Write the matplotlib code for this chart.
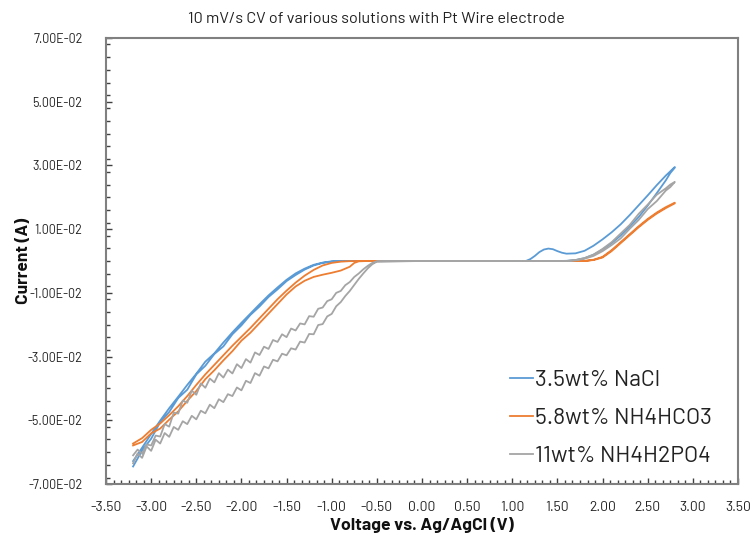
import numpy as np
import matplotlib
matplotlib.use("Agg")
import matplotlib.pyplot as plt
from matplotlib.ticker import FuncFormatter, MultipleLocator

plt.rcParams['font.family'] = ['Barlow', 'Roboto Condensed', 'DejaVu Sans']

# --- data (current in mA, converted to A below) ---
labels = ['3.5wt% NaCl', '5.8wt% NH4HCO3', '11wt% NH4H2PO4']
colors = ['#5B9BD5', '#ED7D31', '#A5A5A5']

# 3.5wt% NaCl
nacl_v_fwd = [-3.2, -3.1, -3.0, -2.9, -2.8, -2.7, -2.6, -2.5, -2.4, -2.3, -2.2, -2.1, -2.0,
              -1.9, -1.8, -1.7, -1.6, -1.5, -1.4, -1.3, -1.2, -1.1, -1.0, -0.9, -0.8,
              -0.4, 0.0, 0.5, 1.0, 1.15, 1.2, 1.25, 1.3, 1.35, 1.4, 1.45, 1.5, 1.55, 1.6,
              1.7, 1.8, 1.9, 2.0, 2.1, 2.2, 2.3, 2.4, 2.5, 2.6, 2.7, 2.8]
nacl_i_fwd = [-64.5, -59.5, -55.8, -50.6, -47.4, -43.0, -40.4, -35.6, -32.9, -29.2, -26.8, -23.0, -20.2,
              -16.9, -14.3, -11.3, -8.9, -6.3, -4.4, -2.7, -1.4, -0.6, -0.2, -0.05, 0.0,
              0.0, 0.0, 0.0, 0.0, 0.0, 0.6, 1.6, 2.8, 3.6, 3.9, 3.7, 3.1, 2.6, 2.3,
              2.4, 3.2, 4.8, 6.8, 9.0, 11.5, 14.4, 17.5, 20.6, 23.8, 26.8, 29.5]
nacl_v_rev = [2.8, 2.75, 2.7, 2.6, 2.5, 2.4, 2.3, 2.2, 2.1, 2.0, 1.9, 1.8, 1.7, 1.6, 1.5,
              1.0, 0.5, 0.0, -0.4, -0.9, -1.0, -1.1, -1.2, -1.3, -1.4, -1.5, -1.6, -1.7, -1.8,
              -1.9, -2.0, -2.1, -2.2, -2.3, -2.4, -2.5, -2.6, -2.7, -2.8, -2.9, -3.0, -3.1, -3.2]
nacl_i_rev = [29.3, 27.6, 25.3, 21.3, 17.4, 13.8, 10.8, 8.0, 5.6, 3.6, 2.0, 0.9, 0.3, 0.05, 0.0,
              0.0, 0.0, 0.0, 0.0, 0.0, -0.1, -0.5, -1.2, -2.4, -3.9, -5.9, -8.3, -10.8, -13.6,
              -16.5, -19.4, -22.4, -25.6, -29.0, -31.6, -35.4, -38.9, -42.6, -46.2, -50.1, -54.3, -58.6, -62.8]

# 5.8wt% NH4HCO3
nh4hco3_v_fwd = [-3.2, -3.1, -3.0, -2.9, -2.8, -2.7, -2.6, -2.5, -2.4, -2.3, -2.2, -2.1, -2.0,
                 -1.9, -1.8, -1.7, -1.6, -1.5, -1.4, -1.3, -1.2, -1.1, -1.0, -0.9, -0.8,
                 -0.75, -0.7, -0.6, 0.0, 1.0, 1.8, 1.9, 2.0, 2.1, 2.2, 2.3, 2.4, 2.5, 2.6, 2.7, 2.8]
nh4hco3_i_fwd = [-57.9, -56.8, -54.1, -52.6, -49.8, -47.2, -43.9, -40.8, -37.1, -34.3, -31.2, -28.3, -25.0,
                 -22.5, -19.5, -16.5, -13.5, -10.5, -8.0, -6.2, -5.0, -4.3, -3.7, -3.0, -1.8,
                 -0.6, -0.1, 0.0, 0.0, 0.0, 0.0, 0.4, 1.3, 3.4, 5.9, 8.4, 10.9, 13.2, 15.2, 16.9, 18.3]
nh4hco3_v_rev = [2.8, 2.7, 2.6, 2.5, 2.4, 2.3, 2.2, 2.1, 2.0, 1.9, 1.8, 1.0, 0.0, -0.6, -0.7,
                 -0.8, -0.9, -1.0, -1.1, -1.2, -1.3, -1.4, -1.5, -1.6, -1.7, -1.8, -1.9, -2.0,
                 -2.1, -2.2, -2.3, -2.4, -2.5, -2.6, -2.7, -2.8, -2.9, -3.0, -3.1, -3.2]
nh4hco3_i_rev = [18.1, 16.6, 14.9, 12.9, 10.6, 8.1, 5.6, 3.1, 1.1, 0.3, 0.0, 0.0, 0.0, 0.0, 0.0,
                 -0.05, -0.2, -0.6, -1.4, -2.8, -4.6, -6.8, -9.3, -12.0, -15.0, -18.0, -21.0, -23.8,
                 -26.6, -29.6, -32.6, -35.6, -38.9, -42.4, -45.6, -48.4, -51.0, -53.0, -55.6, -57.3]

# 11wt% NH4H2PO4
nh4h2po4_v_neg = [-3.2, -3.15, -3.1, -3.05, -3.0, -2.95, -2.9, -2.85, -2.8, -2.75, -2.7, -2.65,
                  -2.6, -2.55, -2.5, -2.45, -2.4, -2.35, -2.3, -2.25, -2.2, -2.15, -2.1, -2.05,
                  -2.0, -1.95, -1.9, -1.85, -1.8, -1.75, -1.7, -1.65, -1.6, -1.55, -1.5, -1.45,
                  -1.4, -1.35, -1.3, -1.25, -1.2, -1.15, -1.1, -1.05, -1.0, -0.95, -0.9, -0.85,
                  -0.8, -0.75, -0.7, -0.65, -0.6, -0.55, -0.5]
nh4h2po4_i_upper = [-61.0, -59.2, -60.5, -57.6, -57.9, -54.8, -55.1, -51.2, -52.0, -47.6, -47.9, -43.8,
                    -44.5, -40.7, -42.0, -38.4, -39.8, -36.9, -38.1, -35.2, -36.6, -34.1, -35.3, -32.4,
                    -33.6, -30.8, -31.9, -28.7, -29.5, -26.9, -27.6, -24.8, -25.4, -23.0, -23.9, -21.2,
                    -21.8, -19.6, -19.9, -17.3, -17.5, -15.0, -14.6, -12.6, -12.0, -10.0, -9.4, -7.6,
                    -6.6, -5.0, -3.9, -2.6, -1.5, -0.6, -0.1]
nh4h2po4_i_lower = [-63.5, -60.4, -61.8, -58.2, -59.6, -56.1, -57.3, -54.0, -55.2, -52.1, -53.0, -50.3,
                    -51.2, -48.6, -49.7, -47.0, -47.8, -45.1, -46.2, -43.4, -44.3, -41.8, -42.4, -39.7,
                    -40.6, -37.6, -38.3, -35.2, -36.0, -33.1, -33.7, -31.0, -31.5, -29.1, -29.6, -27.4,
                    -27.8, -25.3, -25.6, -22.9, -23.0, -20.1, -19.8, -17.4, -16.6, -14.2, -12.9, -11.0,
                    -9.4, -7.5, -5.6, -3.9, -2.3, -1.0, -0.2]
nh4h2po4_v_pos = [0.0, 1.0, 1.6, 1.7, 1.8, 1.9, 2.0, 2.1, 2.2, 2.3, 2.4, 2.5, 2.6, 2.7, 2.75, 2.8]
nh4h2po4_i_pos_up = [0.0, 0.0, 0.0, 0.3, 0.9, 2.0, 3.8, 5.9, 8.6, 11.3, 14.8, 17.7, 20.8, 22.8, 24.0, 24.8]
nh4h2po4_i_pos_dn = [0.0, 0.0, 0.0, 0.2, 0.7, 1.6, 3.1, 5.0, 7.1, 10.1, 12.9, 16.3, 18.8, 22.1, 23.2, 24.8]


def mA(vals):
    return np.array(vals) / 1000.0


series = [
    (nacl_v_fwd + nacl_v_rev, mA(nacl_i_fwd + nacl_i_rev)),
    (nh4hco3_v_fwd + nh4hco3_v_rev, mA(nh4hco3_i_fwd + nh4hco3_i_rev)),
    (nh4h2po4_v_neg + nh4h2po4_v_pos + nh4h2po4_v_pos[::-1] + nh4h2po4_v_neg[::-1],
     mA(nh4h2po4_i_lower + nh4h2po4_i_pos_up + nh4h2po4_i_pos_dn[::-1] + nh4h2po4_i_upper[::-1])),
]

W, H = 752, 535
fig = plt.figure(figsize=(W/100, H/100), dpi=100)
ax = fig.add_axes([106/W, 1-484/H, (738-106)/W, (484-38)/H])

for (v, i), c, lab in zip(series, colors, labels):
    ax.plot(v, i, color=c, lw=1.3, label=lab)

ax.set_xlim(-3.5, 3.5)
ax.set_ylim(-0.07, 0.07)
ax.xaxis.set_major_locator(MultipleLocator(0.5))
ax.xaxis.set_minor_locator(MultipleLocator(0.5/6))
ax.yaxis.set_minor_locator(MultipleLocator(0.004))
ax.set_yticks(np.arange(-0.07, 0.0701, 0.02))
ax.xaxis.set_major_formatter(FuncFormatter(lambda v, p: f"{v:.2f}"))
ax.yaxis.set_major_formatter(FuncFormatter(lambda v, p: f"{v:.2E}"))
ax.tick_params(which='both', direction='in', colors='#404040', labelcolor='#222222')
ax.tick_params(which='major', length=4, width=1)
ax.tick_params(which='minor', length=3, width=1)
ax.tick_params(axis='x', pad=12, labelsize=10)
ax.tick_params(axis='y', pad=17, labelsize=9)
for s in ax.spines.values():
    s.set_color('#808080')
    s.set_linewidth(1.5)

fig.text(0.5, 1-19/H, '10 mV/s CV of various solutions with Pt Wire electrode', fontsize=11.7,
         color='#222222', ha='center', va='center')
ax.set_xlabel('Voltage vs. Ag/AgCl (V)', fontsize=12.7, fontweight='bold', color='#111111')
ax.set_ylabel('Current (A)', fontsize=12.5, fontweight='bold', color='#111111')
ax.xaxis.set_label_coords(0.5, -(525-484)/(484-38))
ax.yaxis.set_label_coords(-(106-24)/(738-106), 0.5)
ax.xaxis.label.set_va('center')
ax.yaxis.label.set_va('center')

leg = ax.legend(loc='upper left', bbox_to_anchor=(510/W, 1-370/H), bbox_transform=fig.transFigure,
                frameon=False, fontsize=16.5, borderpad=0, borderaxespad=0, handlelength=1.0,
                handletextpad=0.1, labelspacing=0.75)
for t in leg.get_texts():
    t.set_color('#222222')

fig.savefig('out.png', dpi=100, facecolor='white')
